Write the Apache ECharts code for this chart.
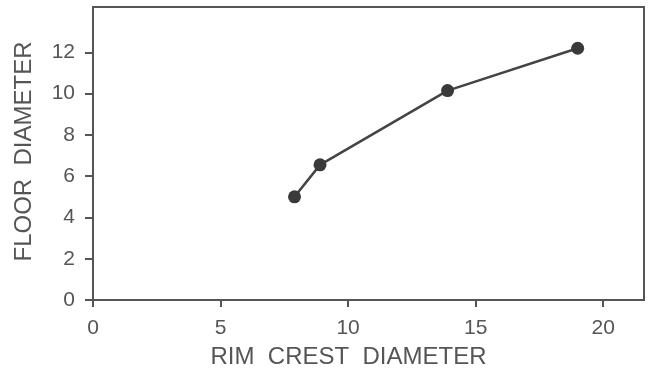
<!DOCTYPE html>
<html><head><meta charset="utf-8">
<script src="https://cdn.jsdelivr.net/npm/echarts@6/dist/echarts.min.js"></script>
<style>html,body{margin:0;padding:0;background:#fff}#c{width:648px;height:374px}</style>
</head><body><div id="c"></div>
<script>
var rimCrest = [7.9, 8.9, 13.9, 19.0];
var floorDiam = [5.0, 6.55, 10.15, 12.2];
var xTicks = [0, 5, 10, 15, 20];
var yTicks = [0, 2, 4, 6, 8, 10, 12];
var xName = 'RIM  CREST  DIAMETER';
var yName = 'FLOOR  DIAMETER';

var pts = rimCrest.map(function (x, i) { return [x, floorDiam[i]]; });
var font = '"Liberation Sans", Arial, sans-serif';
var textCol = '#555';
var chart = echarts.init(document.getElementById('c'));
chart.setOption({
  animation: false,
  grid: { left: 93, right: 4, top: 7, bottom: 71, show: true, borderColor: '#555', borderWidth: 2, backgroundColor: 'transparent' },
  xAxis: {
    type: 'value', min: 0, max: 21.6, interval: 5,
    name: xName, nameLocation: 'middle', nameGap: 45,
    nameTextStyle: { color: textCol, fontSize: 24, fontFamily: font, padding: [0, 40, 0, 0] },
    axisLine: { show: true, onZero: false, lineStyle: { color: '#555', width: 2 } },
    axisTick: { show: true, length: 7, customValues: xTicks, lineStyle: { color: '#555', width: 2 } },
    axisLabel: { customValues: xTicks, color: textCol, fontSize: 21, fontFamily: font, margin: 18 },
    splitLine: { show: false }
  },
  yAxis: {
    type: 'value', min: 0, max: 14.2, interval: 2,
    name: yName, nameLocation: 'middle', nameGap: 57,
    nameTextStyle: { color: textCol, fontSize: 24, fontFamily: font, padding: [0, 0, 0, 4] },
    axisLine: { show: true, onZero: false, lineStyle: { color: '#555', width: 2 } },
    axisTick: { show: true, length: 8, customValues: yTicks, lineStyle: { color: '#555', width: 2 } },
    axisLabel: { customValues: yTicks, color: textCol, fontSize: 21, fontFamily: font, margin: 18 },
    splitLine: { show: false }
  },
  series: [{
    type: 'line', data: pts, symbol: 'circle', symbolSize: 13,
    itemStyle: { color: '#3a3a3a' },
    lineStyle: { color: '#444', width: 2.5 }
  }]
});
</script></body></html>
